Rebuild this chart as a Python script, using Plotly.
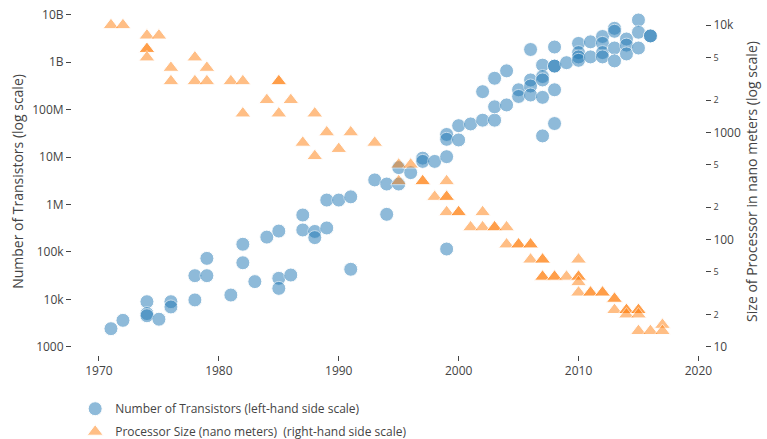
import plotly.graph_objects as go

# Transistor counts per chip, by year of introduction
transistor_years = [
    1971, 1972, 1974, 1974, 1974, 1975, 1976, 1976, 1978, 1978,
    1979, 1979, 1981, 1982, 1982, 1983, 1984, 1985, 1985, 1985,
    1986, 1987, 1987, 1988, 1988, 1989, 1989, 1990, 1991, 1991,
    1993, 1994, 1994, 1995, 1995, 1996, 1997, 1997, 1998, 1999,
    1999, 1999, 1999, 2000, 2000, 2001, 2002, 2002, 2003, 2003,
    2003, 2004, 2004, 2005, 2005, 2006, 2006, 2006, 2006, 2007,
    2007, 2007, 2007, 2007, 2008, 2008, 2008, 2008, 2008, 2009,
    2010, 2010, 2010, 2010, 2011, 2011, 2012, 2012, 2012, 2012,
    2013, 2013, 2013, 2013, 2014, 2014, 2014, 2015, 2015, 2015,
    2016, 2016,
]
transistor_counts = [
    2400, 3600, 8900, 5000, 4500, 3800, 8900, 6900, 9700, 31500,
    31500, 73000, 12300, 59000, 145000, 23600, 205000, 275000, 27700, 17000,
    32500, 600000, 290000, 270000, 200000, 320000, 1240000, 1240000, 1450000, 43000,
    3300000, 620000, 2700000, 2700000, 6000000, 4700000, 9500000, 8100000, 8100000, 30000000,
    23700000, 10200000, 115000, 46000000, 23000000, 50000000, 60000000, 240000000, 60000000, 115000000,
    460000000, 126000000, 660000000, 263000000, 190000000, 424000000, 316000000, 204000000, 1860000000, 870000000,
    500000000, 424000000, 182000000, 28000000, 2100000000, 830000000, 830000000, 263000000, 51000000, 980000000,
    2500000000, 1600000000, 1300000000, 1100000000, 2700000000, 1300000000, 3500000000, 2500000000, 1600000000, 1300000000,
    5200000000, 4500000000, 2000000000, 1070000000, 3100000000, 2300000000, 1500000000, 7800000000, 4300000000, 2000000000,
    3600000000, 3600000000,
]

# Manufacturing process size (nm), by year
size_years = [
    1971, 1972, 1974, 1974, 1974, 1974, 1975, 1976, 1976, 1978,
    1978, 1979, 1979, 1981, 1982, 1982, 1984, 1985, 1985, 1985,
    1986, 1987, 1988, 1988, 1989, 1990, 1991, 1993, 1995, 1995,
    1996, 1997, 1997, 1998, 1999, 1999, 1999, 1999, 2000, 2000,
    2001, 2002, 2002, 2003, 2003, 2004, 2004, 2005, 2005, 2006,
    2006, 2006, 2007, 2007, 2007, 2007, 2008, 2008, 2009, 2010,
    2010, 2010, 2010, 2010, 2011, 2011, 2012, 2012, 2013, 2013,
    2013, 2014, 2014, 2014, 2015, 2015, 2015, 2015, 2016, 2017,
    2017,
]
size_nm = [
    10000, 10000, 8000, 6000, 6000, 5000, 8000, 4000, 3000, 5000,
    3000, 4000, 3000, 3000, 3000, 1500, 2000, 3000, 3000, 1500,
    2000, 800, 1500, 600, 1000, 700, 1000, 800, 500, 350,
    500, 350, 350, 250, 350, 250, 250, 180, 180, 180,
    130, 180, 130, 130, 130, 130, 90, 90, 90, 90,
    90, 65, 65, 65, 45, 45, 45, 45, 45, 65,
    45, 45, 40, 32, 32, 32, 32, 32, 28, 28,
    22, 22, 22, 20, 22, 22, 20, 14, 14, 16,
    14,
]

fig = go.Figure()

fig.add_trace(go.Scatter(
    x=transistor_years,
    y=transistor_counts,
    mode="markers",
    name="Number of Transistors (left-hand side scale)",
    legendgroup="transistors",
    marker=dict(symbol="circle", size=14, color="#1f77b4", opacity=0.5,
                line=dict(width=1, color="white")),
))

fig.add_trace(go.Scatter(
    x=size_years,
    y=size_nm,
    yaxis="y2",
    mode="markers",
    name="Processor Size (nano meters)\u00a0 (right-hand side scale)",
    legendgroup="size",
    marker=dict(symbol="triangle-up", size=14, color="#ff7f0e", opacity=0.5,
                line=dict(width=1, color="white")),
))

fig.update_layout(
    width=767,
    height=439,
    margin=dict(l=72, r=62, t=8, b=84, autoexpand=False),
    paper_bgcolor="white",
    plot_bgcolor="white",
    font=dict(family="Open Sans", size=12, color="#444"),
    xaxis=dict(
        range=[1967.75, 2020.55],
        tick0=1970, dtick=10,
        showgrid=False, zeroline=False,
        ticks="outside", ticklen=5,
        automargin=False,
    ),
    yaxis=dict(
        type="log",
        range=[2.825, 10.145],
        dtick=1,
        exponentformat="B",
        showgrid=False, zeroline=False,
        ticks="outside", ticklen=5,
        automargin=True,
        title=dict(text="Number of Transistors (log scale)", standoff=5),
    ),
    yaxis2=dict(
        type="log",
        range=[0.9226, 4.16],
        dtick="D2",
        overlaying="y",
        side="right",
        showgrid=False, zeroline=False,
        ticks="outside", ticklen=5,
        automargin=True,
        title=dict(text="Size of Processor in nano meters (log scale)", standoff=7),
    ),
    legend=dict(x=0.005, y=-0.113, xanchor="left", yanchor="top",
                tracegroupgap=4, bgcolor="rgba(0,0,0,0)"),
    showlegend=True,
)

fig.write_html("out.html")
